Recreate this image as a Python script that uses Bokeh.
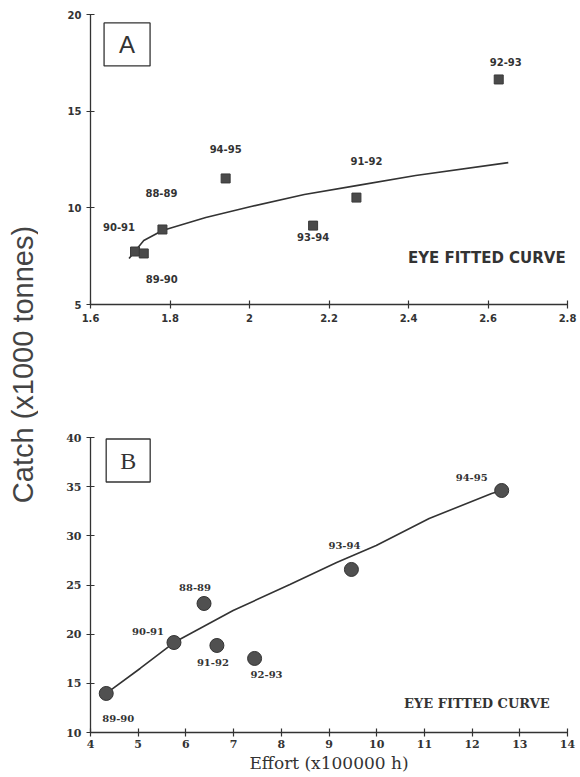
import math
from bokeh.plotting import figure
from bokeh.layouts import row, column
from bokeh.models import ColumnDataSource, Label, FixedTicker
from bokeh.core.properties import value
from bokeh.embed import file_html
from bokeh.resources import INLINE

# ---------------- data ----------------
seasons_a = ["90-91", "89-90", "88-89", "94-95", "93-94", "91-92", "92-93"]
effort_a = [1.712, 1.734, 1.781, 1.940, 2.160, 2.269, 2.627]
catch_a = [7.74, 7.64, 8.88, 11.52, 9.08, 10.53, 16.64]
curve_x_a = [1.697, 1.734, 1.781, 1.890, 2.004, 2.138, 2.269, 2.418, 2.651]
curve_y_a = [7.38, 8.31, 8.83, 9.50, 10.07, 10.69, 11.15, 11.67, 12.34]
x_ticks_a = [1.6, 1.8, 2, 2.2, 2.4, 2.6, 2.8]
x_tick_labels_a = ["1.6", "1.8", "2", "2.2", "2.4", "2.6", "2.8"]
y_ticks_a = [5, 10, 15, 20]

seasons_b = ["89-90", "90-91", "88-89", "91-92", "92-93", "93-94", "94-95"]
effort_b = [4.33, 5.75, 6.38, 6.65, 7.44, 9.47, 12.62]
catch_b = [13.97, 19.15, 23.12, 18.85, 17.53, 26.58, 34.61]
curve_x_b = [4.33, 5.04, 5.75, 6.99, 8.18, 9.16, 9.99, 11.10, 12.41, 12.62]
curve_y_b = [13.97, 16.51, 19.15, 22.41, 25.05, 27.29, 29.02, 31.76, 34.31, 34.61]
x_ticks_b = [4, 5, 6, 7, 8, 9, 10, 11, 12, 13, 14]
y_ticks_b = [10, 15, 20, 25, 30, 35, 40]

# ---------------- layout (label offsets in screen px) ----------------
dx_a = [-16, 18, -1, 0, 0, 10, 7]
dy_a = [-25, 26, -36, -29, 11, -37, -17]
dx_b = [12, -26, -9, -4, 12, -7, -30]
dy_b = [25, -11, -16, 17, 16, -24, -13]

INK = "#333333"
SANS = "Liberation Sans"
SANSB = "DejaVu Sans"
SERIF = "DejaVu Serif"
TOTAL_H = 777
STRIP_W = 38
PANEL_W = 580 - STRIP_W
H_A = 340
H_B = TOTAL_H - H_A


def style_axes(p, font, size, style):
    for ax in (p.xaxis[0], p.yaxis[0]):
        ax.axis_line_color = INK
        ax.axis_line_width = 1.3
        ax.major_tick_line_color = INK
        ax.major_tick_line_width = 1.2
        ax.major_tick_in = 4
        ax.major_tick_out = 4
        ax.minor_tick_line_color = None
        ax.major_label_text_font = font
        ax.major_label_text_font_size = size
        ax.major_label_text_font_style = style
        ax.major_label_text_color = INK
    p.grid.visible = False
    p.outline_line_color = None
    p.background_fill_color = "white"
    p.border_fill_color = "white"


# ---------------- y title strip ----------------
pt = figure(width=STRIP_W, height=TOTAL_H, x_range=(0, 1), y_range=(0, 1),
            output_backend="svg", toolbar_location=None,
            x_axis_location=None, y_axis_location=None,
            min_border=0)
pt.grid.visible = False
pt.outline_line_color = None
pt.add_layout(Label(x=22, y=TOTAL_H - 364, x_units="screen", y_units="screen",
                    text="Catch (x1000 tonnes)", angle=math.pi / 2,
                    text_align="center", text_baseline="middle",
                    text_font=SANS, text_font_size="29px", text_color="#444444"))

# ---------------- panel A ----------------
pa = figure(width=PANEL_W, height=H_A, x_range=(1.6, 2.8), y_range=(5, 20),
            output_backend="svg", toolbar_location=None,
            min_border_left=45, min_border_right=13,
            min_border_top=14, min_border_bottom=36)
style_axes(pa, SANSB, "10px", "bold")
pa.xaxis.ticker = FixedTicker(ticks=x_ticks_a)
pa.xaxis.major_label_overrides = {t: s for t, s in zip(x_ticks_a, x_tick_labels_a)}
pa.yaxis.ticker = FixedTicker(ticks=y_ticks_a)

pa.line(curve_x_a, curve_y_a, line_color=INK, line_width=1.6)
src_a = ColumnDataSource(dict(x=effort_a, y=catch_a, t=seasons_a, dx=dx_a, dy=dy_a))
pa.scatter("x", "y", source=src_a, marker="square", size=9,
           fill_color="#4a4a4a", line_color="#3a3a3a")
pa.text("x", "y", text="t", source=src_a, x_offset="dx", y_offset="dy",
        text_align="center", text_baseline="middle",
        text_font=value(SANSB), text_font_size="10px", text_font_style="bold",
        text_color=INK)
pa.rect(x=[1.692], y=[18.45], width=46, height=43, width_units="screen",
        height_units="screen", fill_color=None, line_color=INK, line_width=1.3)
pa.add_layout(Label(x=1.692, y=18.45, text="A", text_align="center",
                    text_baseline="middle", text_font=SANS,
                    text_font_size="24px", text_color=INK))
pa.add_layout(Label(x=2.597, y=7.43, text="EYE FITTED CURVE", text_align="center",
                    text_baseline="middle", text_font=SANSB, text_font_style="bold",
                    text_font_size="15px", text_color=INK))

# ---------------- panel B ----------------
pb = figure(width=PANEL_W, height=H_B, x_range=(4, 14), y_range=(10, 40),
            output_backend="svg", toolbar_location=None,
            min_border_left=52, min_border_right=11,
            min_border_top=97, min_border_bottom=45)
style_axes(pb, SERIF, "11px", "bold")
pb.xaxis.ticker = FixedTicker(ticks=x_ticks_b)
pb.yaxis.ticker = FixedTicker(ticks=y_ticks_b)
pb.xaxis.major_label_standoff = 3
pb.xaxis.axis_label = "Effort (x100000 h)"
pb.xaxis.axis_label_text_font = SERIF
pb.xaxis.axis_label_text_font_size = "17px"
pb.xaxis.axis_label_text_font_style = "normal"
pb.xaxis.axis_label_text_color = INK
pb.xaxis.axis_label_standoff = 2

pb.line(curve_x_b, curve_y_b, line_color=INK, line_width=1.6)
src_b = ColumnDataSource(dict(x=effort_b, y=catch_b, t=seasons_b, dx=dx_b, dy=dy_b))
pb.scatter("x", "y", source=src_b, marker="circle", size=14,
           fill_color="#505050", line_color="#333333")
pb.text("x", "y", text="t", source=src_b, x_offset="dx", y_offset="dy",
        text_align="center", text_baseline="middle",
        text_font=value(SERIF), text_font_size="10px", text_font_style="bold",
        text_color=INK)
pb.rect(x=[4.79], y=[37.66], width=44, height=43, width_units="screen",
        height_units="screen", fill_color=None, line_color=INK, line_width=1.3)
pb.add_layout(Label(x=4.79, y=37.66, text="B", text_align="center",
                    text_baseline="middle", text_font="Liberation Serif",
                    text_font_size="24px", text_color=INK))
pb.add_layout(Label(x=12.10, y=12.95, text="EYE FITTED CURVE", text_align="center",
                    text_baseline="middle", text_font=SERIF, text_font_style="bold",
                    text_font_size="13px", text_color=INK))

layout = row(pt, column(pa, pb))
open("out.html", "w").write(file_html(layout, INLINE))
